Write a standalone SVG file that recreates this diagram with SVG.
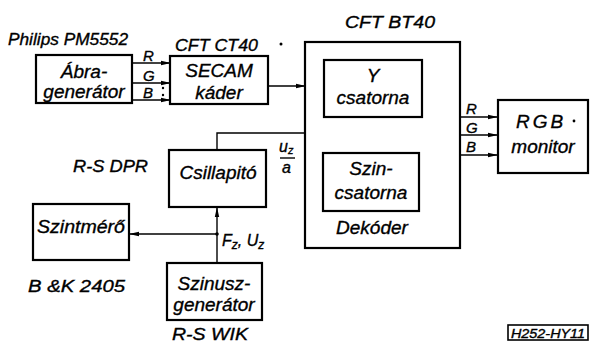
<svg xmlns="http://www.w3.org/2000/svg" width="592" height="345" viewBox="0 0 592 345">
<defs>
<marker id="ah" markerWidth="10" markerHeight="6" refX="9" refY="3" orient="auto" markerUnits="userSpaceOnUse">
<path d="M0,0.8 L10,3 L0,5.2 Z" fill="#000"/>
</marker>
<style>
.box{fill:#fff;stroke:#000;stroke-width:2.2}
.ln{fill:none;stroke:#000;stroke-width:1.4}
text{font-family:"Liberation Sans","DejaVu Sans",sans-serif;font-style:italic;fill:#000;stroke:#000;stroke-width:0.35}
.t{font-size:19px;text-anchor:middle}
.l{font-size:17px}
.s{font-size:16px}
.r{font-size:15px}
</style>
</defs>
<rect width="592" height="345" fill="#fff"/>

<g id="connectors">
<line class="ln" x1="132" y1="63" x2="170" y2="63" marker-end="url(#ah)"/>
<line class="ln" x1="132" y1="83" x2="170" y2="83" marker-end="url(#ah)"/>
<line class="ln" x1="132" y1="100" x2="170" y2="100" marker-end="url(#ah)"/>
<line class="ln" x1="268" y1="86" x2="305" y2="86" marker-end="url(#ah)"/>
<polyline class="ln" points="217,150 217,133 371,133" marker-end="url(#ah)"/>
<line class="ln" x1="373" y1="117" x2="373" y2="152" marker-end="url(#ah)"/>
<circle cx="373" cy="133" r="1.8"/>
<line class="ln" x1="460" y1="117" x2="497" y2="117" marker-end="url(#ah)"/>
<line class="ln" x1="460" y1="135" x2="497" y2="135" marker-end="url(#ah)"/>
<line class="ln" x1="460" y1="155" x2="497" y2="155" marker-end="url(#ah)"/>
<line class="ln" x1="217" y1="263" x2="217" y2="208" marker-end="url(#ah)"/>
<line class="ln" x1="217" y1="234" x2="130" y2="234" marker-end="url(#ah)"/>
<circle cx="217" cy="234" r="1.8"/>
<text class="r" x="143" y="61">R</text>
<text class="r" x="143" y="81">G</text>
<text class="r" x="143" y="98">B</text>
<text class="r" x="466" y="114">R</text>
<text class="r" x="466" y="133">G</text>
<text class="r" x="466" y="152">B</text>
<text class="s" x="279" y="152">u<tspan font-size="11" dy="2">z</tspan></text>
<line class="ln" x1="280" y1="158" x2="295" y2="158" stroke-width="1.3"/>
<text class="s" x="282" y="173">a</text>
<text class="s" x="222" y="246">F<tspan font-size="12" dy="3">z</tspan><tspan dy="-3">, U</tspan><tspan font-size="12" dy="3">z</tspan></text>
</g>

<g id="abragenerator">
<rect class="box" x="36" y="55" width="96" height="48"/>
<text class="t" x="84" y="78">Ábra-</text>
<text class="t" x="84" y="98">generátor</text>
<text class="l" x="8" y="45" textLength="120" lengthAdjust="spacingAndGlyphs">Philips PM5552</text>
</g>

<g id="secam">
<rect class="box" x="170" y="56" width="98" height="48"/>
<text class="t" x="219" y="77">SECAM</text>
<text class="t" x="219" y="99">káder</text>
<text class="l" x="175" y="51" textLength="83" lengthAdjust="spacingAndGlyphs">CFT CT40</text>
<circle cx="281" cy="44" r="1.5"/>
<circle cx="163" cy="88" r="1.2"/>
<circle cx="163" cy="95" r="1.2"/>
</g>

<g id="dekoder">
<rect class="box" x="305" y="42" width="155" height="206"/>
<text class="t" x="372" y="234">Dekóder</text>
<text class="l" x="345" y="28" textLength="90" lengthAdjust="spacingAndGlyphs">CFT BT40</text>
</g>

<g id="y-csatorna">
<rect class="box" x="324" y="60" width="98" height="57"/>
<text class="t" x="373" y="82">Y</text>
<text class="t" x="373" y="104">csatorna</text>
</g>

<g id="szin-csatorna">
<rect class="box" x="323" y="153" width="96" height="58"/>
<text class="t" x="371" y="175">Szin-</text>
<text class="t" x="371" y="199">csatorna</text>
</g>

<g id="rgb-monitor">
<rect class="box" x="498" y="100" width="90" height="73"/>
<text class="t" x="541" y="128" letter-spacing="3">RGB</text>
<circle cx="574" cy="121" r="1.4"/>
<text class="t" x="543" y="153">monitor</text>
</g>

<g id="csillapito">
<rect class="box" x="169" y="150" width="97" height="57"/>
<text class="t" x="218" y="179">Csillapitó</text>
<text class="l" x="73" y="172" textLength="75" lengthAdjust="spacingAndGlyphs">R-S DPR</text>
</g>

<g id="szintmero">
<rect class="box" x="33" y="204" width="96" height="56"/>
<text class="t" x="81" y="233" textLength="88" lengthAdjust="spacingAndGlyphs">Szintmérő</text>
<text class="l" x="28" y="292" textLength="97" lengthAdjust="spacingAndGlyphs">B  &amp;K 2405</text>
</g>

<g id="szinuszgenerator">
<rect class="box" x="167" y="263" width="95" height="57"/>
<text class="t" x="214" y="290">Szinusz-</text>
<text class="t" x="214" y="311">generátor</text>
<text class="l" x="172" y="340" textLength="76" lengthAdjust="spacingAndGlyphs">R-S WIK</text>
</g>

<g id="code">
<rect x="508" y="325" width="80" height="15" fill="none" stroke="#000" stroke-width="1.6"/>
<text x="511" y="338" font-size="12" stroke-width="0.2" textLength="74" lengthAdjust="spacingAndGlyphs">H252-HY11</text>
</g>
</svg>
